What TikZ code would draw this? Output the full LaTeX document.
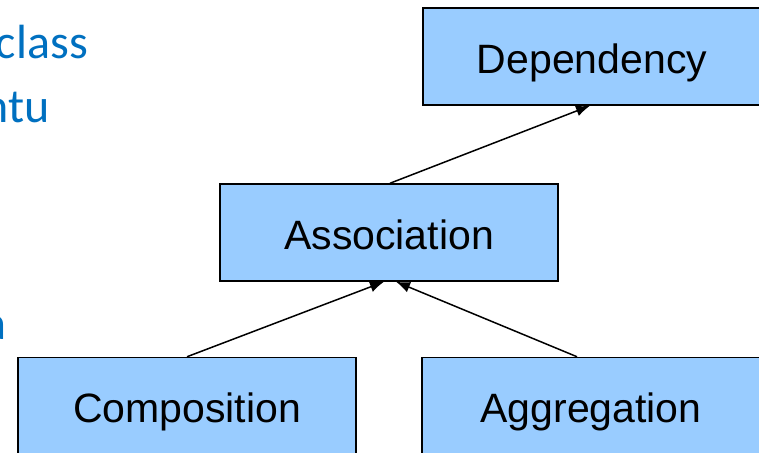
\documentclass[tikz,border=0pt]{standalone}
\usepackage{fontspec}
\setmainfont{Liberation Sans}
\newfontfamily\calib{Carlito}
\usetikzlibrary{arrows.meta}
\definecolor{boxblue}{HTML}{99CCFF}
\definecolor{txtblue}{HTML}{0070C0}
\begin{document}
\begin{tikzpicture}[x=1pt,y=-1pt,
  umlbox/.style={draw=black,line width=1.5pt,fill=boxblue,minimum width=338pt,minimum height=97pt,inner sep=0pt,text height=33pt,text depth=0pt,font=\fontsize{41}{49}\selectfont},
  rel/.style={line width=1.5pt,-{Latex[length=14pt,width=11pt]}},
  side/.style={text=txtblue,font=\calib\fontsize{48}{58}\selectfont,inner sep=0pt}]
\clip (0,0) rectangle (759,452);
\node[umlbox] (dep) at (592,56.5) {Dependency};
\node[umlbox] (assoc) at (389,232.5) {Association};
\node[umlbox] (comp) at (187,406) {Composition};
\node[umlbox] (aggr) at (591,406) {Aggregation};
\draw[rel] ([xshift=1pt]assoc.north) -- ([xshift=-2pt]dep.south);
\draw[rel] (comp.north) -- ([xshift=-5pt]assoc.south);
\draw[rel] ([xshift=-14pt]aggr.north) -- ([xshift=7pt]assoc.south);
\node[side,anchor=base east] (t1) at (88,58) {class};
\node[side,anchor=base east] (t2) at (50,122) {ntu};
\node[side,anchor=base east] (t3) at (7,339) {a};
\end{tikzpicture}
\end{document}
